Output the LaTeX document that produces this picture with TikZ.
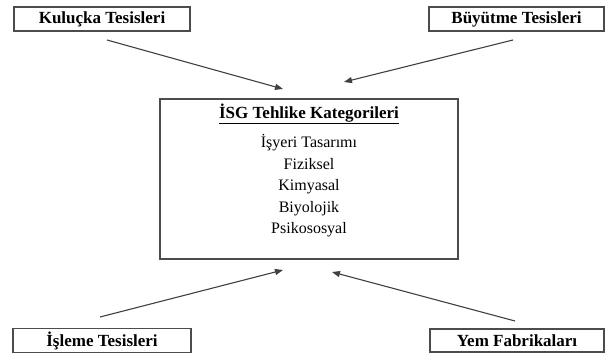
\documentclass[tikz,border=0pt]{standalone}
\usepackage{fontspec}
\setmainfont{Liberation Serif}
\usetikzlibrary{arrows.meta}
\begin{document}
\begin{tikzpicture}[x=1pt,y=-1pt,
  labelbox/.style={draw=black!70,line width=1.4pt,minimum width=176pt,minimum height=24pt,inner sep=0pt,font=\fontsize{17}{20}\selectfont\bfseries},
  catbox/.style={draw=black!70,line width=1.2pt,minimum width=298pt,minimum height=160pt,inner sep=0pt},
  conn/.style={draw=black!75,line width=1.1pt,-{Triangle[length=8pt,width=6pt]}}]
\useasboundingbox (0,0) rectangle (608,355);
\node[labelbox] (kul) at (102,19) {Kuluçka Tesisleri};
\node[labelbox,minimum width=175pt] (buy) at (516.5,19) {Büyütme Tesisleri};
\node[labelbox,minimum width=178pt] (isl) at (102,340.5) {İşleme Tesisleri};
\node[labelbox,minimum width=174pt,minimum height=23pt] (yem) at (517,340.5) {Yem Fabrikaları};
\node[catbox] (cat) at (309,179) {};
\node[font=\fontsize{17}{20}\selectfont\bfseries,inner sep=0pt] (title) at (309,114) {\underline{İSG Tehlike Kategorileri}};
\node[font=\fontsize{16}{21.5}\selectfont,align=center,inner sep=0pt] (list) at (309,186) {İşyeri Tasarımı\\Fiziksel\\Kimyasal\\Biyolojik\\Psikososyal};
\coordinate (a1) at (107,40);
\coordinate (b1) at (283,89);
\coordinate (a2) at (513,40);
\coordinate (b2) at (344,82);
\coordinate (a3) at (100,317);
\coordinate (b3) at (283,270);
\coordinate (a4) at (515,321);
\coordinate (b4) at (332,272);
\draw[conn] (a1) -- (b1);
\draw[conn] (a2) -- (b2);
\draw[conn] (a3) -- (b3);
\draw[conn] (a4) -- (b4);
\end{tikzpicture}
\end{document}
